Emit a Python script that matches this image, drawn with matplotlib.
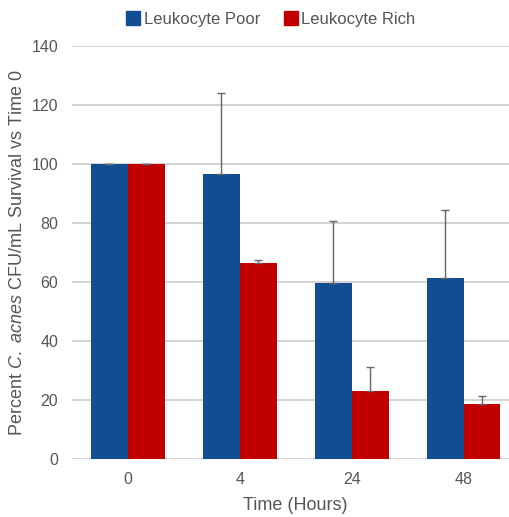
import matplotlib
matplotlib.use("Agg")
import matplotlib.pyplot as plt
import numpy as np
from matplotlib.patches import Patch

categories = ["0", "4", "24", "48"]
poor = [100, 96.7, 59.8, 61.3]
poor_err = [0, 27.3, 20.8, 23.3]
rich = [100, 66.6, 23.0, 18.7]
rich_err = [0, 1.0, 8.4, 2.9]
series_names = ["Leukocyte Poor", "Leukocyte Rich"]
yticks = [0, 20, 40, 60, 80, 100, 120, 140]

blue = "#134d91"
red = "#c00000"
gray_text = "#555555"

plt.rcParams['font.family'] = ['Liberation Sans', 'DejaVu Sans']
plt.rcParams['mathtext.fontset'] = 'custom'
plt.rcParams['mathtext.rm'] = 'Liberation Sans'
plt.rcParams['mathtext.it'] = 'Liberation Sans:italic'

fig = plt.figure(figsize=(5.1, 5.17), dpi=100)
ax = fig.add_axes([0.141, 0.1116, 0.8776, 0.7994])

x = np.arange(len(categories))
w = 0.33
ekw = dict(ecolor="#666666", elinewidth=1.0, capsize=3, capthick=1.0)
ax.bar(x - w/2, poor, w, color=blue, yerr=[np.zeros(4), poor_err], error_kw=ekw, zorder=3)
ax.bar(x + w/2, rich, w, color=red, yerr=[np.zeros(4), rich_err], error_kw=ekw, zorder=3)

ax.set_xlim(-0.5, 3.5)
ax.set_ylim(0, 140)
ax.set_yticks(yticks)
ax.set_xticks(x)
ax.set_xticklabels(categories)
ax.tick_params(axis='both', length=0, labelsize=11.5, labelcolor=gray_text)
ax.tick_params(axis='y', pad=10)
ax.tick_params(axis='x', pad=9)
ax.yaxis.grid(True, color="#cccccc", linewidth=1.2, zorder=0)
ax.set_axisbelow(True)
for s in ax.spines.values():
    s.set_visible(False)

ax.set_ylabel(r"Percent $\mathit{C.\ acnes}$ CFU/mL Survival vs Time 0", fontsize=13, color=gray_text, labelpad=4)
ax.set_xlabel("Time (Hours)", fontsize=13, color=gray_text, labelpad=7)

handles = [Patch(color=blue, label=series_names[0]), Patch(color=red, label=series_names[1])]
fig.legend(handles=handles, loc="center", bbox_to_anchor=(0.531, 0.963), ncol=2, frameon=False,
           fontsize=12, labelcolor=gray_text, handlelength=0.85, handleheight=0.85,
           handletextpad=0.2, columnspacing=1.4)

fig.savefig("out.png", dpi=100)
